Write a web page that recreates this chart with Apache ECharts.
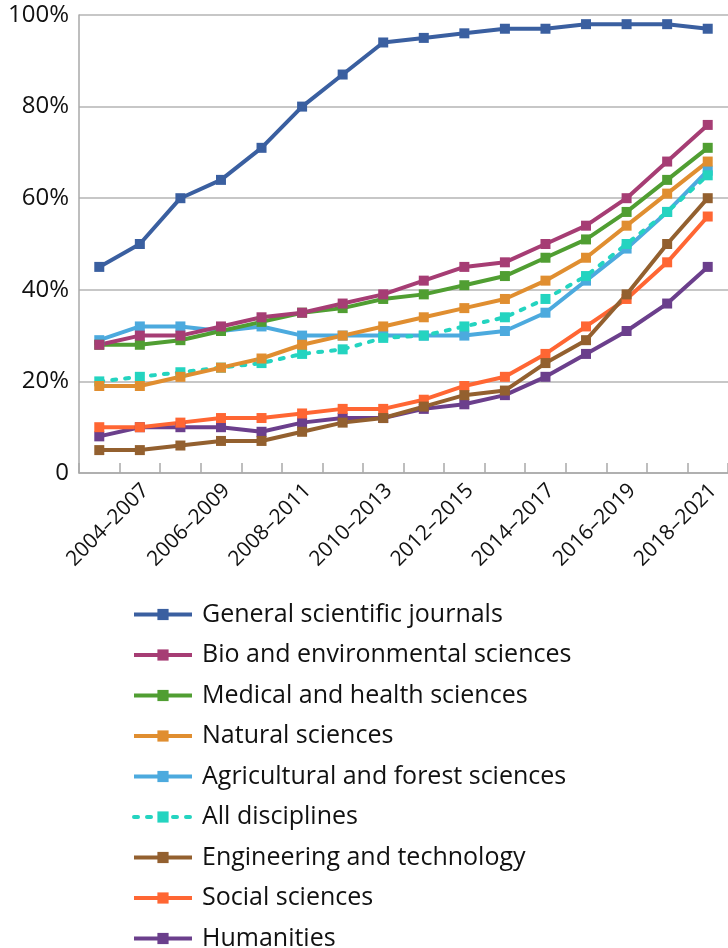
<!DOCTYPE html>
<html>
<head>
<meta charset="utf-8">
<script src="https://cdn.jsdelivr.net/npm/echarts@6/dist/echarts.min.js"></script>
<style>
  html, body { margin: 0; padding: 0; background: #fff; }
  #chart { width: 728px; height: 948px; }
</style>
</head>
<body>
<div id="chart"></div>
<script>
// periods (4-year windows)
const periods = [
  '2003–2006', '2004–2007', '2005–2008', '2006–2009', '2007–2010', '2008–2011',
  '2009–2012', '2010–2013', '2011–2014', '2012–2015', '2013–2016', '2014–2017',
  '2015–2018', '2016–2019', '2017–2020', '2018–2021'
]

// share of open access, %
const generalJournals = [45, 50, 60, 64, 71, 80, 87, 94, 95, 96, 97, 97, 98, 98, 98, 97]
const bioEnv = [28, 30, 30, 32, 34, 35, 37, 39, 42, 45, 46, 50, 54, 60, 68, 76]
const medicalHealth = [28, 28, 29, 31, 33, 35, 36, 38, 39, 41, 43, 47, 51, 57, 64, 71]
const naturalSci = [19, 19, 21, 23, 25, 28, 30, 32, 34, 36, 38, 42, 47, 54, 61, 68]
const agriForest = [29, 32, 32, 31, 32, 30, 30, 30, 30, 30, 31, 35, 42, 49, 57, 66]
const allDisciplines = [20, 21, 22, 23, 24, 26, 27, 29.5, 30, 32, 34, 38, 43, 50, 57, 65]
const engineering = [5, 5, 6, 7, 7, 9, 11, 12, 14.5, 17, 18, 24, 29, 39, 50, 60]
const socialSci = [10, 10, 11, 12, 12, 13, 14, 14, 16, 19, 21, 26, 32, 38, 46, 56]
const humanities = [8, 10, 10, 10, 9, 11, 12, 12, 14, 15, 17, 21, 26, 31, 37, 45]

const yTicks = [0, 20, 40, 60, 80, 100]

function line(name, data, color, dashed) {
  return {
    name: name,
    type: 'line',
    data: data,
    symbol: 'rect',
    symbolSize: 10,
    itemStyle: { color: color },
    lineStyle: {
      color: color,
      width: 4,
      type: dashed ? [4, 9] : 'solid',
      cap: dashed ? 'round' : 'butt'
    },
    emphasis: { disabled: true }
  }
}

const myChart = echarts.init(document.getElementById('chart'), null, { renderer: 'canvas' })
myChart.setOption({
  animation: false,
  textStyle: { fontFamily: 'Open Sans' },
  grid: {
    left: 79,
    top: 15,
    width: 653,
    height: 458,
    containLabel: false
  },
  legend: {
    orient: 'vertical',
    left: 127,
    top: 597,
    height: 380,
    itemWidth: 58,
    itemHeight: 14,
    itemGap: 15.5,
    lineStyle: { width: 4 },
    textStyle: {
      fontSize: 25,
      color: '#111',
      padding: [0, 0, 0, 5]
    },
    data: [
      'General scientific journals',
      'Bio and environmental sciences',
      'Medical and health sciences',
      'Natural sciences',
      'Agricultural and forest sciences',
      'All disciplines',
      'Engineering and technology',
      'Social sciences',
      'Humanities'
    ]
  },
  xAxis: {
    type: 'category',
    data: periods,
    boundaryGap: true,
    axisLine: { lineStyle: { color: '#a9a9a9', width: 1.5 } },
    axisTick: {
      show: true,
      inside: true,
      length: 10,
      interval: 0,
      lineStyle: { color: '#a9a9a9', width: 1.5 }
    },
    axisLabel: {
      interval: function (index) { return index % 2 === 1 },
      rotate: 45,
      margin: 20,
      fontSize: 21,
      color: '#111',
      padding: [0, -8, 0, 0]
    },
    splitLine: { show: false }
  },
  yAxis: {
    type: 'value',
    min: yTicks[0],
    max: yTicks[yTicks.length - 1],
    interval: 20,
    axisLine: { show: true, lineStyle: { color: '#a9a9a9', width: 1.5 } },
    axisTick: { show: false },
    axisLabel: {
      margin: 10,
      fontSize: 24,
      color: '#111',
      formatter: function (v) { return v === 0 ? '0' : v + '%' }
    },
    splitLine: { lineStyle: { color: '#b5b5b5', width: 1.5 } }
  },
  series: [
    line('Humanities', humanities, '#6b3f8c'),
    line('Social sciences', socialSci, '#ff6633'),
    line('Engineering and technology', engineering, '#93602f'),
    line('Agricultural and forest sciences', agriForest, '#4caade'),
    line('All disciplines', allDisciplines, '#24d4c0', true),
    line('Natural sciences', naturalSci, '#e08e30'),
    line('Medical and health sciences', medicalHealth, '#509e32'),
    line('Bio and environmental sciences', bioEnv, '#a63d74'),
    line('General scientific journals', generalJournals, '#3a5fa0')
  ]
})
</script>
</body>
</html>
